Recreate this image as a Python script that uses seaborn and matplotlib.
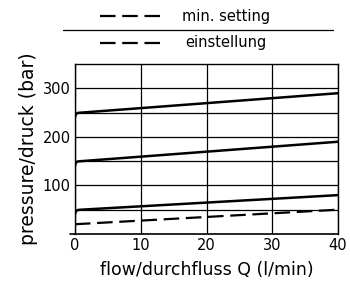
import numpy as np
import pandas as pd
import seaborn as sns
import matplotlib.pyplot as plt
from matplotlib.lines import Line2D

# flow (l/min) and pressure (bar)
flow = [0, 0.1, 0.25, 0.5, 1, 40]
p_300 = [240, 245, 248, 249.5, 250, 290]
p_200 = [140, 145, 148, 149.5, 150, 190]
p_100 = [40, 45, 48, 49.5, 50, 80]
min_flow = [0, 40]
min_setting = [20, 50]

sns.set_style('white')
plt.rcParams['font.family'] = ['DejaVu Sans']
plt.rcParams['text.color'] = 'black'
plt.rcParams['axes.labelcolor'] = 'black'

dash = (0, (7, 3))

fig = plt.figure(figsize=(3.5, 2.86), dpi=100)
ax = fig.add_axes([0.214, 0.182, 0.752, 0.594])

for p in [p_300, p_200, p_100]:
    df = pd.DataFrame({'flow': flow, 'p': p})
    sns.lineplot(data=df, x='flow', y='p', ax=ax, color='black', lw=1.8)
df = pd.DataFrame({'flow': min_flow, 'p': min_setting})
sns.lineplot(data=df, x='flow', y='p', ax=ax, color='black', lw=1.6,
             dashes=False, linestyle=dash)

ax.set_xlim(0, 40)
ax.set_ylim(0, 350)
ax.set_xticks([0, 10, 20, 30, 40])
ax.set_yticks([50, 100, 150, 200, 250, 300])
ax.set_yticklabels(['', '100', '', '200', '', '300'])
ax.grid(True, color='black', lw=0.9)
ax.tick_params(length=0, labelsize=10.5, pad=3, colors='black')
for s in ax.spines.values():
    s.set_color('black')
    s.set_linewidth(1.0)
ax.spines['bottom'].set_linewidth(1.2)
ax.plot([-0.02, 0], [0, 0], transform=ax.get_yaxis_transform(),
        color='black', lw=1.2, clip_on=False)
ax.set_xlabel('flow/durchfluss Q (l/min)', fontsize=12.5, labelpad=6)
ax.set_ylabel('pressure/druck (bar)', fontsize=13.5, labelpad=3)

# legend block at the top
fig.add_artist(Line2D([100/350, 163/350], [1 - 16/286, 1 - 16/286],
                      color='black', lw=1.6, linestyle=dash))
fig.text(182/350, 1 - 16/286, 'min. setting', fontsize=10.5, va='center')
fig.add_artist(Line2D([63/350, 333/350], [1 - 30/286, 1 - 30/286],
                      color='black', lw=0.9))
fig.add_artist(Line2D([100/350, 163/350], [1 - 43/286, 1 - 43/286],
                      color='black', lw=1.6, linestyle=dash))
fig.text(185/350, 1 - 43/286, 'einstellung', fontsize=10.5, va='center')

fig.savefig('out.png', dpi=100)
